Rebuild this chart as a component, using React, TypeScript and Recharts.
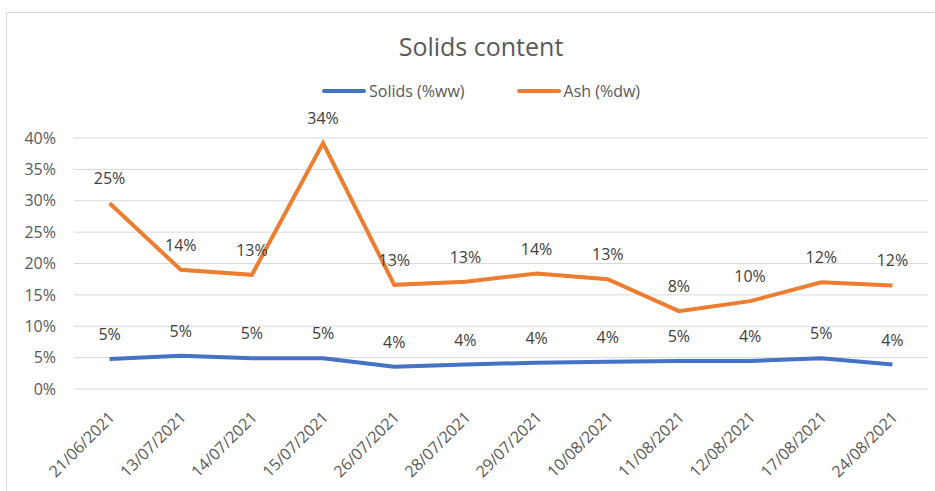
import React from 'react';
import { LineChart, Line, XAxis, YAxis, CartesianGrid, LabelList } from 'recharts';

const dates = ['21/06/2021', '13/07/2021', '14/07/2021', '15/07/2021', '26/07/2021', '28/07/2021', '29/07/2021', '10/08/2021', '11/08/2021', '12/08/2021', '17/08/2021', '24/08/2021'];
const solids = [0.048, 0.053, 0.049, 0.049, 0.0355, 0.039, 0.042, 0.0435, 0.0445, 0.0445, 0.049, 0.039];
const ash = [0.296, 0.19, 0.182, 0.392, 0.166, 0.171, 0.184, 0.175, 0.124, 0.14, 0.17, 0.165];
const solidsLabels = ['5%', '5%', '5%', '5%', '4%', '4%', '4%', '4%', '5%', '4%', '5%', '4%'];
const ashLabels = ['25%', '14%', '13%', '34%', '13%', '13%', '14%', '13%', '8%', '10%', '12%', '12%'];
const yTicks = [0, 0.05, 0.1, 0.15, 0.2, 0.25, 0.3, 0.35, 0.4];

const data = dates.map((d, i) => ({
  date: d,
  solids: solids[i],
  ash: ash[i],
  solidsLabel: solidsLabels[i],
  ashLabel: ashLabels[i],
}));

const FONT = '"Open Sans", sans-serif';
const TEXT = '#595959';

const PointLabel = (props: any) => {
  const { x, y, value } = props;
  return (
    <text x={x} y={y - 25} textAnchor="middle" dominantBaseline="central" fill="#404040" fontSize={16} fontFamily={FONT}>
      {value}
    </text>
  );
};

const XTick = (props: any) => {
  const { x, y, payload } = props;
  return (
    <g transform={`translate(${x + 2},${y + 17})`}>
      <text transform="rotate(-45)" textAnchor="end" dominantBaseline="central" fill={TEXT} fontSize={16} fontFamily={FONT}>
        {payload.value}
      </text>
    </g>
  );
};

const LegendItem = ({ color, label }: { color: string; label: string }) => (
  <div style={{ display: 'flex', alignItems: 'center' }}>
    <div style={{ width: 44, height: 4, background: color, borderRadius: 2 }} />
    <span style={{ marginLeft: 3, fontSize: 16, lineHeight: '16px', color: TEXT, fontFamily: FONT }}>{label}</span>
  </div>
);

export default function App() {
  return (
    <div style={{ position: 'absolute', left: 0, top: 0, width: 935, height: 491, background: '#fff', overflow: 'hidden' }}>
      <div style={{ position: 'absolute', left: 6, top: 12, width: 940, height: 490, border: '1px solid #d9d9d9' }} />
      <div style={{ position: 'absolute', left: 0, top: 34, width: 962, textAlign: 'center', fontSize: 25, lineHeight: '25px', color: TEXT, fontFamily: FONT }}>
        Solids content
      </div>
      <div style={{ position: 'absolute', left: 322, top: 83, display: 'flex', gap: 52 }}>
        <LegendItem color="#4472C4" label="Solids (%ww)" />
        <LegendItem color="#ED7D31" label="Ash (%dw)" />
      </div>
      <div style={{ position: 'absolute', left: 0, top: 0 }}>
        <LineChart width={935} height={491} data={data} margin={{ top: 138, right: 7, bottom: 72, left: 14 }}>
          <CartesianGrid vertical={false} stroke="#d9d9d9" />
          <XAxis dataKey="date" scale="band" height={30} tickLine={false} axisLine={false} tick={<XTick />} interval={0} />
          <YAxis
            width={60}
            domain={[0, 0.4]}
            ticks={yTicks}
            tickFormatter={(v: number) => `${Math.round(v * 100)}%`}
            tickLine={false}
            axisLine={false}
            tickSize={0}
            tickMargin={18}
            tick={{ fill: TEXT, fontSize: 16, fontFamily: FONT }}
          />
          <Line type="linear" dataKey="solids" stroke="#4472C4" strokeWidth={4} dot={false} isAnimationActive={false}>
            <LabelList dataKey="solidsLabel" content={<PointLabel />} />
          </Line>
          <Line type="linear" dataKey="ash" stroke="#ED7D31" strokeWidth={4} dot={false} isAnimationActive={false}>
            <LabelList dataKey="ashLabel" content={<PointLabel />} />
          </Line>
        </LineChart>
      </div>
    </div>
  );
}
